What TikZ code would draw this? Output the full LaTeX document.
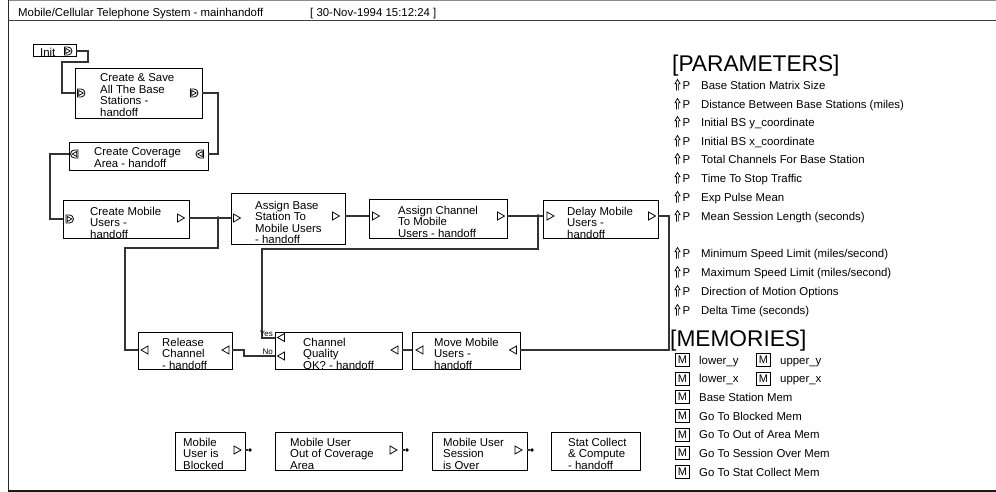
\documentclass[tikz,border=0pt]{standalone}
\usepackage{fontspec}
\setmainfont{Liberation Sans}
\usetikzlibrary{calc,fit}
\newcommand{\tfont}{\fontsize{11.4}{11.6}\selectfont}
\tikzset{
  blk/.style={draw=black, line width=1pt, inner sep=0pt, outer sep=0pt},
  wire/.style={draw=black!80, line width=1.1pt},
  port/.style={draw=black, line width=0.8pt, fill=white, line join=miter},
  btxt/.style={inner sep=0pt, align=left, font=\tfont, anchor=north west},
  ltxt/.style={inner sep=0pt, font=\tfont, anchor=base west},
  jdot/.style={circle, fill=black, inner sep=0pt, minimum size=3.6pt},
  mbox/.style={draw=black, line width=0.8pt, inner sep=0pt, minimum width=14pt, minimum height=13pt, font=\fontsize{11}{11}\selectfont},
  head/.style={inner sep=0pt, anchor=base west, font=\fontsize{22.7}{22.7}\selectfont},
  small/.style={inner sep=0pt, anchor=base east, font=\fontsize{8}{8}\selectfont},
  pics/trir/.style={code={\draw[port] (-3.5,-4) -- (3.5,0) -- (-3.5,4) -- cycle;}},
  pics/tril/.style={code={\draw[port] (3.5,-4) -- (-3.5,0) -- (3.5,4) -- cycle;}},
  pics/dport/.style={code={
    \draw[port] (-3.5,4) -- (0,4) arc[start angle=90,end angle=-90,radius=4] -- (-3.5,-4) -- cycle;
    \draw[port,line width=0.7pt] (-2.3,-2.6) -- (2.3,0) -- (-2.3,2.6) -- cycle;}},
  pics/cport/.style={code={
    \draw[port] (3.5,4) -- (0,4) arc[start angle=90,end angle=270,radius=4] -- (3.5,-4) -- cycle;
    \draw[port,line width=0.7pt] (2.3,-2.6) -- (-2.3,0) -- (2.3,2.6) -- cycle;}},
  pics/uparr/.style={code={
    \draw[black, line width=0.7pt, line join=miter] (-1.1,5.5) -- (-1.1,-1.2) -- (-2.6,-1.2) -- (0,-5.5) -- (2.6,-1.2) -- (1.1,-1.2) -- (1.1,5.5);}}
}
\begin{document}
\begin{tikzpicture}[x=1pt,y=-1pt]
\useasboundingbox (0,0) rectangle (996,492);
% frame
\draw[black!45, line width=1pt] (8,0.5) -- (996,0.5);
\draw[black!85, line width=1.3pt] (8.5,0) -- (8.5,491);
\draw[black!75, line width=1.3pt] (8,20.5) -- (996,20.5);
\draw[black!90, line width=1.6pt] (8,491) -- (996,491);
\node[ltxt] (title) at (18,16.5) {Mobile/Cellular Telephone System - mainhandoff};
\node[ltxt] (date) at (310,16.5) {[ 30-Nov-1994 15:12:24 ]};

% boxes
\node[blk, fit={(33,45)(76,57)}] (init) {};
\node[ltxt] (initt) at (40,56.5) {Init};
\node[blk, fit={(75,69)(202,119)}] (cs) {};
\node[btxt] (cst) at (100,73.6) {Create \& Save\\All The Base\\Stations -\\handoff};
\node[blk, fit={(69,143)(208,170)}] (cov) {};
\node[btxt] (covt) at (94,147.6) {Create Coverage\\Area - handoff};
\node[blk, fit={(63,200)(189,238)}] (cm) {};
\node[btxt] (cmt) at (90,206.6) {Create Mobile\\Users -\\handoff};
\node[blk, fit={(231,193)(345,244)}] (ab) {};
\node[btxt] (abt) at (255,200.6) {Assign Base\\Station To\\Mobile Users\\- handoff};
\node[blk, fit={(369,199)(507,238)}] (ac) {};
\node[btxt] (act) at (398,205.6) {Assign Channel\\To Mobile\\Users - handoff};
\node[blk, fit={(543,200)(658,238)}] (dm) {};
\node[btxt] (dmt) at (567,206.6) {Delay Mobile\\Users -\\handoff};
\node[blk, fit={(138,332)(232,369)}] (rc) {};
\node[btxt] (rct) at (162,337.6) {Release\\Channel\\- handoff};
\node[blk, fit={(275,332)(402,369)}] (cq) {};
\node[btxt] (cqt) at (303,337.6) {Channel\\Quality\\OK? - handoff};
\node[blk, fit={(412,332)(520,369)}] (mm) {};
\node[btxt] (mmt) at (434,337.6) {Move Mobile\\Users -\\handoff};
\node[blk, fit={(175,432)(245,470)}] (b1) {};
\node[btxt] (b1t) at (183,437.6) {Mobile\\User is\\Blocked};
\node[blk, fit={(275,432)(402,470)}] (b2) {};
\node[btxt] (b2t) at (290,437.6) {Mobile User\\Out of Coverage\\Area};
\node[blk, fit={(432,432)(527,470)}] (b3) {};
\node[btxt] (b3t) at (443,437.6) {Mobile User\\Session\\is Over};
\node[blk, fit={(551,432)(640,470)}] (b4) {};
\node[btxt] (b4t) at (568,437.6) {Stat Collect\\\& Compute\\- handoff};

% junctions
\node[jdot] (j1) at (218,218) {};
\node[jdot] (j2) at (538,216) {};
\node[jdot] (d1) at (250,450) {};
\node[jdot] (d2) at (407,450) {};
\node[jdot] (d3) at (532,450) {};

% wires
\draw[wire] (init.east) -| (88,62) -| (62,93) -- (cs.west |- 0,93);
\draw[wire] (cs.east |- 0,93) -| (218,154) -- (cov.east |- 0,154);
\draw[wire] (cov.west |- 0,154) -| (50,219) -- (cm.west |- 0,219);
\draw[wire] (cm.east |- 0,218) -- (ab.west |- 0,218);
\draw[wire] (j1.center) |- (125,248) |- (rc.west |- 0,350);
\draw[wire] (ab.east |- 0,216) -- (ac.west |- 0,216);
\draw[wire] (ac.east |- 0,216) -- (dm.west |- 0,216);
\draw[wire] (j2.center) |- (262,249) |- (cq.west |- 0,338);
\draw[wire] (dm.east |- 0,216) -| (669,350) -- (mm.east |- 0,350);
\draw[wire] (mm.west |- 0,350) -- (cq.east |- 0,350);
\draw[wire] (cq.west |- 0,356) -| (244,350) -- (rc.east |- 0,350);
\draw[wire] (b1.east |- 0,450) -- (d1);
\draw[wire] (b2.east |- 0,450) -- (d2);
\draw[wire] (b3.east |- 0,450) -- (d3);
\node[small] (yes) at (273,336) {Yes};
\node[small] (no) at (273,354.5) {No};

% ports
\pic at (68,51) {dport};
\pic at (81,93) {dport};
\pic at (194,93) {dport};
\pic at (74.5,154) {cport};
\pic at (200,154) {cport};
\pic at (69.5,219) {dport};
\pic at (181,218) {trir};
\pic at (237,218) {trir};
\pic at (336,216) {trir};
\pic at (376,216) {trir};
\pic at (501,216) {trir};
\pic at (550.5,216) {trir};
\pic at (652,216) {trir};
\pic at (144.5,350) {tril};
\pic at (225.5,350) {tril};
\pic at (281,337.5) {tril};
\pic at (281,356) {tril};
\pic at (394.5,350) {tril};
\pic at (419.5,350) {tril};
\pic at (513,350) {tril};
\pic at (237.5,450) {trir};
\pic at (393.5,450) {trir};
\pic at (518.5,450) {trir};

% parameters
\node[head] (params) at (672,72) {[PARAMETERS]};
\foreach \yy/\tt [count=\i] in {85/{Base Station Matrix Size},104/{Distance Between Base Stations (miles)},122/{Initial BS y\_coordinate},141/{Initial BS x\_coordinate},159/{Total Channels For Base Station},178/{Time To Stop Traffic},197/{Exp Pulse Mean},216/{Mean Session Length (seconds)},253/{Minimum Speed Limit (miles/second)},272/{Maximum Speed Limit (miles/second)},291/{Direction of Motion Options},310/{Delta Time (seconds)}} {
  \pic at (677.5,\yy) {uparr};
  \node[ltxt] (pp\i) at (682.5,\yy+4.1) {P};
  \node[ltxt] (pt\i) at (701,\yy+4.1) {\tt};
}

% memories
\node[head] (mems) at (670,346) {[MEMORIES]};
\node[mbox] (ma1) at (682.5,360) {M};
\node[ltxt] (mat1) at (699,364.1) {lower\_y};
\node[mbox] (mb1) at (763.5,360) {M};
\node[ltxt] (mbt1) at (780,364.1) {upper\_y};
\node[mbox] (ma2) at (682.5,378.5) {M};
\node[ltxt] (mat2) at (699,382.6) {lower\_x};
\node[mbox] (mb2) at (763.5,378.5) {M};
\node[ltxt] (mbt2) at (780,382.6) {upper\_x};
\foreach \yy/\tt [count=\i] in {397/{Base Station Mem},416/{Go To Blocked Mem},434.5/{Go To Out of Area Mem},453/{Go To Session Over Mem},472/{Go To Stat Collect Mem}} {
  \node[mbox] (mc\i) at (682.5,\yy) {M};
  \node[ltxt] (mct\i) at (699,\yy+4.1) {\tt};
}
\end{tikzpicture}
\end{document}
